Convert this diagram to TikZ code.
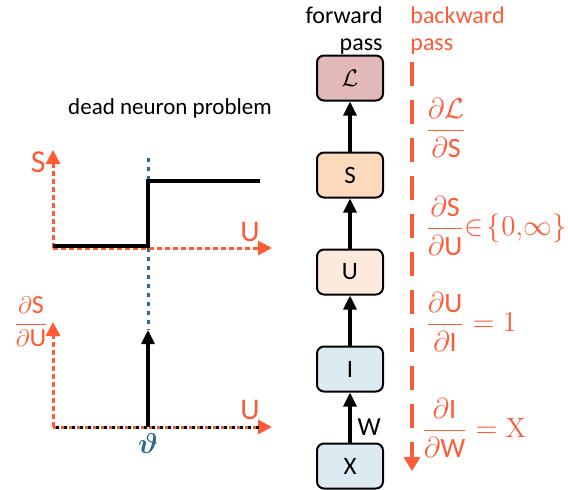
\documentclass[tikz,border=0pt]{standalone}
\usepackage{amsmath}
\usepackage{bm}
\usepackage{fontspec}
\setmainfont{Carlito}
\newfontfamily\serifx{Latin Modern Roman}
\usetikzlibrary{arrows.meta, positioning}
\definecolor{gradorange}{HTML}{FF5A36}
\definecolor{thetablue}{HTML}{2D6A8C}
\definecolor{lossbg}{HTML}{E3B8B8}
\definecolor{spikebg}{HTML}{FAD9BC}
\definecolor{membg}{HTML}{FDEADD}
\definecolor{inbg}{HTML}{DCEBF2}
\tikzset{
  var/.style      = {rectangle, rounded corners=3.5pt, draw=black, line width=1pt,
                      minimum width=33pt, minimum height=22.5pt, inner sep=0pt,
                      font=\fontsize{12.5}{15}\selectfont},
  fwd/.style      = {-{Triangle[length=7pt,width=6.5pt]}, line width=1.6pt},
  bwd/.style      = {-{Triangle[length=7pt,width=8pt]}, line width=1.8pt, draw=gradorange,
                      dash pattern=on 12pt off 7pt},
  axis/.style     = {-{Triangle[length=7pt,width=7pt]}, line width=1.5pt, draw=gradorange,
                      dash pattern=on 2.5pt off 1.5pt},
  thresh/.style   = {line width=1.5pt, draw=thetablue, dash pattern=on 2pt off 2.5pt},
  stepline/.style = {line width=1.7pt},
  grad/.style     = {text=gradorange, font=\fontsize{14}{16}\selectfont, inner sep=0pt},
  axlabel/.style  = {text=gradorange, font=\fontsize{15}{17}\selectfont, inner sep=0pt},
  caption/.style  = {font=\fontsize{11.5}{14}\selectfont, inner sep=0pt},
}

\begin{document}
\begin{tikzpicture}[x=0.5pt, y=-0.5pt, node distance=25pt]
  \useasboundingbox (0,0) rectangle (568,489);

  % forward pass
  \node[var, fill=inbg] (x) at (350,466) {X};
  \node[var, fill=inbg, above=of x] (i) {I};
  \node[var, fill=membg, above=of i] (u) {U};
  \node[var, fill=spikebg, above=of u] (s) {S};
  \node[var, fill=lossbg, above=of s] (loss) {$\mathcal{L}$};
  \draw[fwd] (x) -- node[right, font=\fontsize{13}{15}\selectfont, inner sep=3pt, pos=0.3] {W} (i);
  \draw[fwd] (i) -- (u);
  \draw[fwd] (u) -- (s);
  \draw[fwd] (s) -- (loss);
  \node[caption, font=\fontsize{12}{13.5}\selectfont, align=right, anchor=north east] (fwdlabel) at (383,6) {forward\\pass};

  % backward pass
  \coordinate (btop) at (412,62);
  \coordinate (bbot) at (412,471);
  \draw[bwd] (btop) -- (bbot);
  \node[caption, font=\fontsize{12}{13.5}\selectfont, align=left, anchor=north west, text=gradorange] (bwdlabel) at (410,6) {backward\\pass};
  \node[grad, anchor=west] (dls) at (425,128) {$\dfrac{\partial\mathcal{L}}{\partial\text{S}}$};
  \node[grad, anchor=west] (dsu) at (425,226) {$\dfrac{\partial\text{S}}{\partial\text{U}}$\,{\fontsize{13.5}{15}\selectfont$\!\in\!\{0,\!\infty\}$}};
  \node[grad, anchor=west] (dui) at (425,322) {$\dfrac{\partial\text{U}}{\partial\text{I}}=1$};
  \node[grad, anchor=west] (diw) at (421,428) {$\dfrac{\partial\text{I}}{\partial\text{W}}=\text{\serifx X}$};

  % dead neuron plots
  \node[caption] (title) at (170,108) {dead neuron problem};
  \coordinate (o1) at (53,248);
  \coordinate (o2) at (53,427);
  \coordinate (theta) at (148,427);
  \draw[thresh] (148,158) -- (148,330);
  \draw[axis] (o1) -- (53,150);
  \draw[axis] (o1) -- (272,248);
  \draw[stepline] (53,246) -- (148,246) -- (148,181) -- (260,181);
  \node[axlabel, font=\fontsize{16}{18}\selectfont, anchor=east] (ylab1) at (46,162) {S};
  \node[axlabel] (xlab1) at (250,232) {U};
  \draw[axis] (o2) -- (53,322);
  \draw[axis] (o2) -- (272,427);
  \draw[line width=1.5pt, dash pattern=on 1.5pt off 2.5pt, dash phase=2.5pt] (o2) -- (262,427);
  \draw[fwd] (theta) -- (148,330);
  \node[axlabel, font=\fontsize{13}{15}\selectfont, anchor=east] (ylab2) at (49,322) {$\dfrac{\partial\text{S}}{\partial\text{U}}$};
  \node[axlabel] (xlab2) at (250,410) {U};
  \node[text=thetablue, font=\fontsize{14}{16}\selectfont] (thetalab) at (148,443) {$\bm{\vartheta}$};
\end{tikzpicture}
\end{document}
